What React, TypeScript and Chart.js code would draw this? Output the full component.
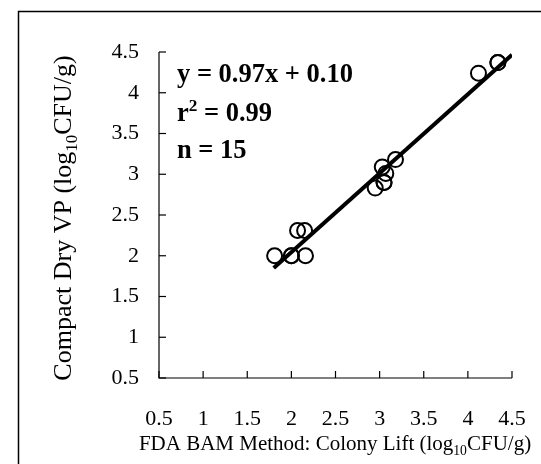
import React, { useEffect, useRef } from "react";
import { Chart, registerables } from "chart.js";

Chart.register(...registerables);

const xValues = [1.81, 2.0, 2.0, 2.16, 2.07, 2.15, 2.95, 3.03, 3.07, 3.05, 3.05, 3.18, 4.12, 4.34, 4.34];
const yValues = [2.0, 2.0, 2.0, 2.0, 2.31, 2.31, 2.83, 3.09, 3.01, 2.9, 2.9, 3.18, 4.24, 4.37, 4.37];
const fitX = [1.8, 4.5];
const fitY = [1.85, 4.465];
const tickValues = [0.5, 1, 1.5, 2, 2.5, 3, 3.5, 4, 4.5];
const tickLabels = ["0.5", "1", "1.5", "2", "2.5", "3", "3.5", "4", "4.5"];
const equationLines = ["y = 0.97x + 0.10", "r2 = 0.99", "n = 15"];
const xTitle = ["FDA BAM Method: Colony Lift (log", "10", "CFU/g)"];
const yTitle = ["Compact Dry VP (log", "10", "CFU/g)"];

const SERIF = '"Liberation Serif", "Times New Roman", serif';

type Part = { t: string; mode?: "sub" | "sup" };

function drawRich(ctx: CanvasRenderingContext2D, parts: Part[], x: number, y: number, size: number, bold: boolean, align: "left" | "center") {
  const w = bold ? "bold " : "";
  let total = 0;
  const widths = parts.map((p) => {
    const s = p.mode ? size * 0.65 : size;
    ctx.font = `${w}${s}px ${SERIF}`;
    const m = ctx.measureText(p.t).width;
    total += m;
    return m;
  });
  let cx = align === "center" ? x - total / 2 : x;
  ctx.textBaseline = "alphabetic";
  ctx.textAlign = "left";
  parts.forEach((p, i) => {
    const s = p.mode ? size * 0.65 : size;
    ctx.font = `${w}${s}px ${SERIF}`;
    let dy = 0;
    if (p.mode === "sub") dy = size * 0.22;
    if (p.mode === "sup") dy = -size * 0.38;
    ctx.fillText(p.t, cx, y + dy);
    cx += widths[i];
  });
}

const decor = {
  id: "decor",
  beforeDraw(chart: any) {
    const ctx = chart.ctx;
    ctx.save();
    ctx.fillStyle = "#fff";
    ctx.fillRect(0, 0, chart.width, chart.height);
    ctx.restore();
  },
  afterDraw(chart: any) {
    const ctx: CanvasRenderingContext2D = chart.ctx;
    const xs = chart.scales.x;
    const ys = chart.scales.y;
    const ca = chart.chartArea;
    ctx.save();
    ctx.fillStyle = "#000";
    ctx.strokeStyle = "#000";
    ctx.lineWidth = 1.5;
    ctx.strokeRect(18.5, 11.5, chart.width + 20, chart.height + 20);
    ctx.lineWidth = 1.2;
    ctx.beginPath();
    ctx.moveTo(ca.left, ca.top);
    ctx.lineTo(ca.left, ca.bottom);
    ctx.lineTo(ca.right, ca.bottom);
    ctx.stroke();
    tickValues.forEach((v) => {
      const py = ys.getPixelForValue(v);
      ctx.beginPath();
      ctx.moveTo(ca.left, py);
      ctx.lineTo(ca.left + 7, py);
      ctx.stroke();
      const px = xs.getPixelForValue(v);
      ctx.beginPath();
      ctx.moveTo(px, ca.bottom);
      ctx.lineTo(px, ca.bottom - 7);
      ctx.stroke();
    });
    const ex = 177;
    drawRich(ctx, [{ t: equationLines[0] }], ex, 82, 26.5, true, "left");
    drawRich(ctx, [{ t: "r" }, { t: "2", mode: "sup" }, { t: equationLines[1].slice(2) }], ex, 121, 26.5, true, "left");
    drawRich(ctx, [{ t: equationLines[2] }], ex, 158, 26.5, true, "left");
    drawRich(ctx, [{ t: xTitle[0] }, { t: xTitle[1], mode: "sub" }, { t: xTitle[2] }], 335, 450, 21, false, "center");
    ctx.translate(71, 218);
    ctx.rotate(-Math.PI / 2);
    drawRich(ctx, [{ t: yTitle[0] }, { t: yTitle[1], mode: "sub" }, { t: yTitle[2] }], 0, 0, 26, false, "center");
    ctx.restore();
  },
};

export default function App() {
  const ref = useRef<HTMLCanvasElement>(null);
  useEffect(() => {
    document.body.style.margin = "0";
    const points = xValues.map((x, i) => ({ x, y: yValues[i] }));
    const fit = fitX.map((x, i) => ({ x, y: fitY[i] }));
    const fmt = (v: any) => {
      const i = tickValues.indexOf(Number(v));
      return i >= 0 ? tickLabels[i] : "";
    };
    const chart = new Chart(ref.current!, {
      type: "scatter",
      data: {
        datasets: [
          {
            type: "line",
            data: fit,
            borderColor: "#000",
            borderWidth: 4,
            pointRadius: 0,
            fill: false,
          } as any,
          {
            data: points,
            pointStyle: "circle",
            pointRadius: 7.5,
            pointBorderWidth: 2,
            pointBackgroundColor: "rgba(0,0,0,0)",
            pointBorderColor: "#000",
          } as any,
        ],
      },
      options: {
        animation: false,
        responsive: false,
        layout: { padding: { top: 52, right: 29, left: 0, bottom: 0 } },
        plugins: { legend: { display: false }, tooltip: { enabled: false } },
        scales: {
          x: {
            type: "linear",
            min: 0.5,
            max: 4.5,
            afterFit: (s: any) => {
              s.height = 86;
              s.paddingLeft = 0;
              s.paddingRight = 0;
            },
            afterBuildTicks: (s: any) => {
              s.ticks = tickValues.map((v) => ({ value: v }));
            },
            grid: { display: false, drawTicks: false },
            border: { display: false },
            ticks: {
              color: "#000",
              font: { family: SERIF, size: 22 },
              padding: 28,
              maxRotation: 0,
              autoSkip: false,
              callback: fmt,
            },
          },
          y: {
            type: "linear",
            min: 0.5,
            max: 4.5,
            afterFit: (s: any) => {
              s.width = 159;
              s.paddingTop = 0;
              s.paddingBottom = 0;
            },
            afterBuildTicks: (s: any) => {
              s.ticks = tickValues.map((v) => ({ value: v }));
            },
            grid: { display: false, drawTicks: false },
            border: { display: false },
            ticks: {
              color: "#000",
              font: { family: SERIF, size: 22 },
              padding: 20,
              autoSkip: false,
              callback: fmt,
            },
          },
        },
      },
      plugins: [decor],
    });
    return () => chart.destroy();
  }, []);
  return (
    <div style={{ width: 541, height: 464 }}>
      <canvas ref={ref} width={541} height={464} />
    </div>
  );
}
